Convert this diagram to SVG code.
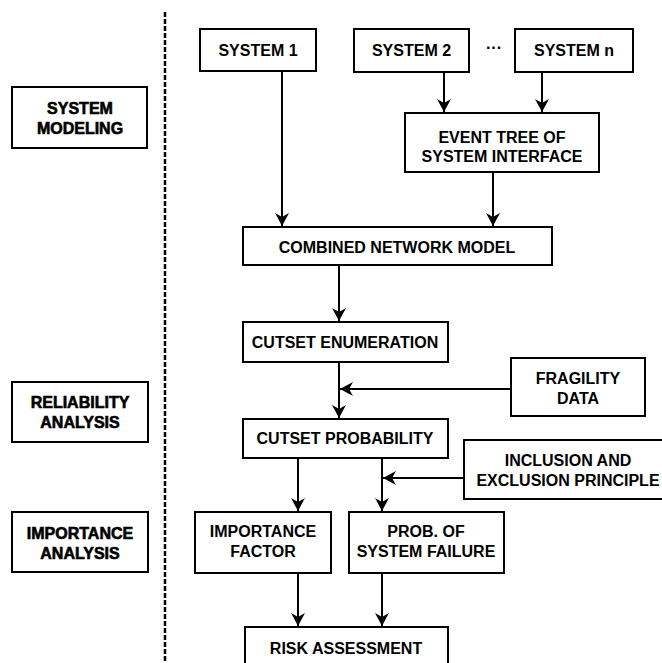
<svg xmlns="http://www.w3.org/2000/svg" width="662" height="663" viewBox="0 0 662 663">
<style>
.box{fill:#fff;stroke:#000;stroke-width:2}
.t{font-family:"Liberation Sans",Arial,sans-serif;font-weight:bold;font-size:16px;text-anchor:middle;fill:#000}
.h{stroke:#000;stroke-width:0.6}
.c{stroke:#000;stroke-width:2;fill:none;marker-end:url(#ah)}
</style>
<defs>
<marker id="ah" markerUnits="userSpaceOnUse" markerWidth="13" markerHeight="14" refX="13" refY="7" orient="auto">
<path d="M0,0 L13,7 L0,14 L4,7 z" fill="#000"/>
</marker>
</defs>
<rect width="662" height="663" fill="#fff"/>
<line x1="165" y1="12" x2="165" y2="663" stroke="#000" stroke-width="2.5" stroke-dasharray="5,2"/>
<g id="connectors">
<line class="c" x1="282" y1="71" x2="282" y2="226"/>
<line class="c" x1="444" y1="72" x2="444" y2="112"/>
<line class="c" x1="542" y1="72" x2="542" y2="112"/>
<line class="c" x1="493" y1="172" x2="493" y2="226"/>
<line class="c" x1="339" y1="265" x2="339" y2="321"/>
<line class="c" x1="339" y1="362" x2="339" y2="418"/>
<line class="c" x1="511" y1="389" x2="340" y2="389"/>
<line class="c" x1="298" y1="458" x2="298" y2="511"/>
<line class="c" x1="382" y1="458" x2="382" y2="511"/>
<line class="c" x1="464" y1="478" x2="383" y2="478"/>
<line class="c" x1="298" y1="573" x2="298" y2="626"/>
<line class="c" x1="382" y1="573" x2="382" y2="626"/>
</g>
<g id="system-modeling"><rect class="box" x="12" y="87" width="135" height="61"/><text class="t h" x="80" y="114">SYSTEM</text><text class="t h" x="80" y="134">MODELING</text></g>
<g id="reliability-analysis"><rect class="box" x="12" y="382" width="136" height="60"/><text class="t h" x="80" y="408">RELIABILITY</text><text class="t h" x="80" y="428">ANALYSIS</text></g>
<g id="importance-analysis"><rect class="box" x="12" y="512" width="136" height="60"/><text class="t h" x="80" y="539">IMPORTANCE</text><text class="t h" x="80" y="559">ANALYSIS</text></g>
<g id="system1"><rect class="box" x="200" y="29" width="116" height="42"/><text class="t" x="258" y="56">SYSTEM 1</text></g>
<g id="system2"><rect class="box" x="354" y="29" width="115" height="43"/><text class="t" x="411.5" y="56">SYSTEM 2</text></g>
<text class="t" x="494" y="53">···</text>
<g id="systemn"><rect class="box" x="515" y="29" width="118" height="43"/><text class="t" x="574" y="56">SYSTEM n</text></g>
<g id="event-tree"><rect class="box" x="405" y="113" width="194" height="59"/><text class="t" x="502" y="143">EVENT TREE OF</text><text class="t" x="502" y="161.5">SYSTEM INTERFACE</text></g>
<g id="combined"><rect class="box" x="243" y="227" width="309" height="38"/><text class="t" x="397" y="252.5">COMBINED NETWORK MODEL</text></g>
<g id="cutset-enum"><rect class="box" x="243" y="322" width="205" height="40"/><text class="t" x="345" y="348">CUTSET ENUMERATION</text></g>
<g id="fragility"><rect class="box" x="511" y="358" width="134" height="58"/><text class="t" x="578" y="384">FRAGILITY</text><text class="t" x="578" y="404">DATA</text></g>
<g id="cutset-prob"><rect class="box" x="243" y="419" width="205" height="39"/><text class="t" x="345" y="444">CUTSET PROBABILITY</text></g>
<g id="inclusion"><rect class="box" x="464" y="440" width="210" height="59"/><text class="t" x="568" y="466">INCLUSION AND</text><text class="t" x="568" y="486">EXCLUSION PRINCIPLE</text></g>
<g id="importance-factor"><rect class="box" x="195" y="512" width="136" height="61"/><text class="t" x="263" y="537">IMPORTANCE</text><text class="t" x="263" y="557">FACTOR</text></g>
<g id="prob-failure"><rect class="box" x="349" y="512" width="155" height="61"/><text class="t" x="426" y="536.5">PROB. OF</text><text class="t" x="426" y="556.5">SYSTEM FAILURE</text></g>
<g id="risk"><rect class="box" x="245" y="627" width="203" height="50"/><text class="t" x="346" y="654">RISK ASSESSMENT</text></g>
</svg>
